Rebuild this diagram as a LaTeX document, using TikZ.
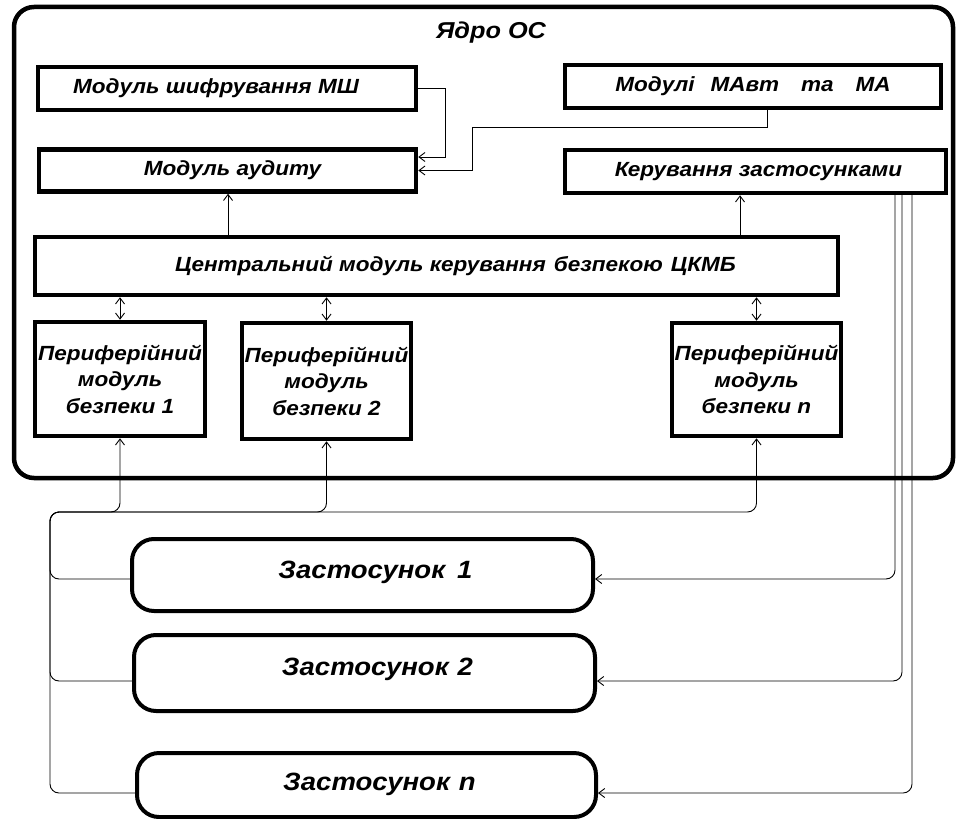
\documentclass[tikz,border=0pt]{standalone}
\usepackage{fontspec}
\setmainfont[FakeStretch=1.1]{Liberation Sans}
\usetikzlibrary{arrows.meta}
\begin{document}
\begin{tikzpicture}[x=1pt,y=-1pt,
  box/.style={draw, line width=4.5pt, rectangle, align=center, inner sep=0pt,
    font=\fontsize{20.5}{26.5}\selectfont\bfseries\itshape},
  appbox/.style={draw, line width=4pt, rectangle, rounded corners=22pt, inner sep=0pt,
    font=\fontsize{25}{28}\selectfont\bfseries\itshape},
  conn/.style={draw, line width=0.9pt},
  tip/.style={-{Straight Barb[length=6pt,width=9pt]}},
  dtip/.style={{Straight Barb[length=6pt,width=9pt]}-{Straight Barb[length=6pt,width=9pt]}}
]
\useasboundingbox (0,0) rectangle (957,818);
\fill[white] (0,0) rectangle (957,818);

% kernel outline
\node[draw, line width=4.5pt, rectangle, rounded corners=20pt, minimum width=939pt, minimum height=471pt, inner sep=0pt] (kernel) at (483.5,242.5) {};
\node[font=\fontsize{23}{26}\selectfont\bfseries\itshape] (title) at (491,33) {Ядро ОС};

% modules
\node[box, minimum width=378pt, minimum height=43pt] (msh) at (227,88.5) {Модуль шифрування МШ\hspace*{22pt}};
\node[box, minimum width=377pt, minimum height=42pt] (aud) at (227.5,170.5) {\hspace*{10pt}Модуль аудиту};
\node[box, minimum width=376pt, minimum height=43pt] (mavt) at (753,86.5) {Модулі\hspace{16pt}МАвт\hspace{22pt}та\hspace{22pt}МА};
\node[box, minimum width=381pt, minimum height=43pt] (ker) at (755.5,171.5) {\hspace*{6pt}Керування застосунками};
\node[box, minimum width=803pt, minimum height=58pt] (cen) at (436.5,266) {\hspace*{38pt}Центральний модуль керування\hspace{8pt}безпекою\hspace{8pt}ЦКМБ};
\node[box, minimum width=170pt, minimum height=114pt] (p1) at (120,379) {Периферійний\\модуль\\безпеки 1};
\node[box, minimum width=169pt, minimum height=116pt] (p2) at (326.5,381) {Периферійний\\модуль\\безпеки 2};
\node[box, minimum width=169pt, minimum height=113pt] (pn) at (756.5,379.5) {Периферійний\\модуль\\безпеки n};

% applications
\node[appbox, minimum width=461pt, minimum height=72pt] (app1) at (362.5,575) {\hspace*{26pt}\raisebox{10pt}{Застосунок\hspace{12pt}1}};
\node[appbox, minimum width=461pt, minimum height=76pt] (app2) at (364.5,673) {\hspace*{26pt}\raisebox{13pt}{Застосунок\hspace{9pt}2}};
\node[appbox, minimum width=459pt, minimum height=64pt] (appn) at (366.5,785) {\hspace*{26pt}\raisebox{6pt}{Застосунок\hspace{9pt}n}};

% audit inputs
\draw[conn, tip] (msh.east) -| (445,157) -- ([yshift=13.5pt]aud.east);
\draw[conn, tip] ([xshift=14pt]mavt.south) -- ++(0,17) -| (472,170.5) -- (aud.east);

% central to upper modules
\draw[conn, tip] (228,0 |- cen.north) -- (228,0 |- aud.south);
\draw[conn, tip] (740,0 |- cen.north) -- (740,0 |- ker.south);

% central <-> peripheral
\draw[conn, dtip] (p1.north |- cen.south) -- (p1.north);
\draw[conn, dtip] (p2.north |- cen.south) -- (p2.north);
\draw[conn, dtip] (pn.north |- cen.south) -- (pn.north);

% applications to peripherals (left bus)
\coordinate (busL) at (50,512);
\draw[conn, tip, rounded corners=9pt] ([yshift=-4pt]app1.west) -| (busL) -| (p1.south);
\draw[conn, tip, rounded corners=9pt] ([yshift=-8pt]app2.west) -| (busL) -| (p2.south);
\draw[conn, tip, rounded corners=9pt] ([yshift=-8pt]appn.west) -| (busL) -| (pn.south);

% application management to applications (right)
\draw[conn, tip, rounded corners=9pt] ([xshift=139.5pt]ker.south) |- ([yshift=-4pt]app1.east);
\draw[conn, tip, rounded corners=9pt] ([xshift=146.5pt]ker.south) |- ([yshift=-8pt]app2.east);
\draw[conn, tip, rounded corners=9pt] ([xshift=156.5pt]ker.south) |- ([yshift=-8pt]appn.east);
\end{tikzpicture}
\end{document}
